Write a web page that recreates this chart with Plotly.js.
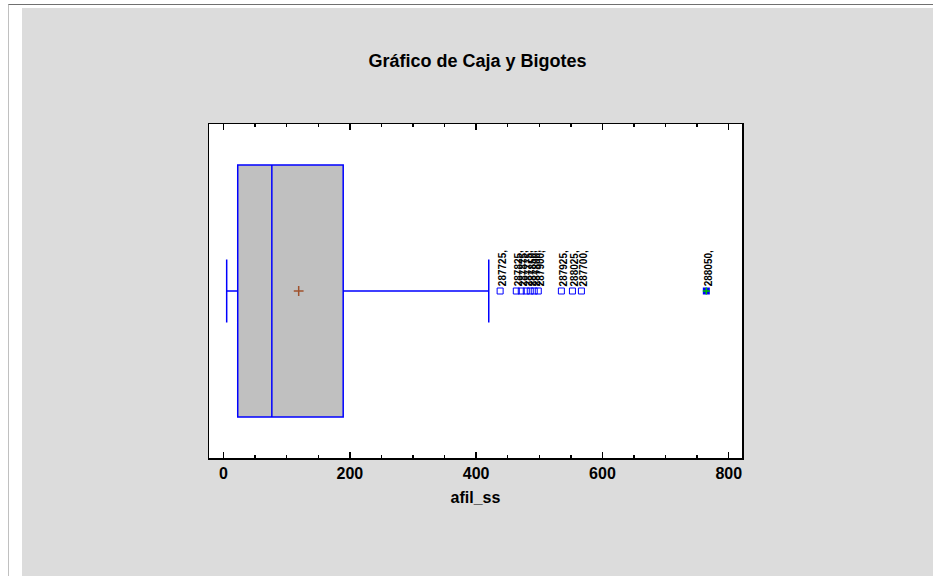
<!DOCTYPE html>
<html><head><meta charset="utf-8">
<script src="https://cdn.plot.ly/plotly-3.0.1.min.js"></script>
<style>
html,body{margin:0;padding:0;background:#fff;width:933px;height:576px;overflow:hidden;}
#frame{position:absolute;left:8px;top:4px;width:925px;height:572px;border-top:1px solid #707070;border-left:1px solid #c0c0c0;}
#chart{position:absolute;left:22px;top:8px;width:911px;height:568px;}
</style></head>
<body>
<div id="frame"></div>
<div id="chart"></div>
<script>
// Summary statistics of afil_ss
const variableName = "afil_ss";
const boxQ1 = [22.5];
const boxMedian = [76.5];
const boxQ3 = [189.5];
const boxLowerWhisker = [5];
const boxUpperWhisker = [420];
const boxMean = [119];
// Outliers (value, row label)
const outlierValues = [438, 463.6, 471.5, 479.4, 485.7, 492, 498.4, 535, 552.5, 566.7];
const outlierLabels = ["287725,", "287825,", "287875,", "287775,", "287850,", "287800,", "287900,", "287925,", "288025,", "287700,"];
const farOutlierValues = [764.5];
const farOutlierLabels = ["288050,"];
const xTickVals = [0, 200, 400, 600, 800];
const xRange = [-23, 821];

const FONT = 'Liberation Sans, Arial, sans-serif';
const traces = [
  {
    type: 'box', orientation: 'h', y: [0],
    q1: boxQ1, median: boxMedian, q3: boxQ3,
    lowerfence: boxLowerWhisker, upperfence: boxUpperWhisker,
    boxpoints: false, width: 1.509, whiskerwidth: 0.25,
    fillcolor: '#c0c0c0', line: {color: '#0000ff', width: 1.5},
    hoverinfo: 'skip', showlegend: false
  },
  {
    type: 'scatter', mode: 'markers', x: boxMean, y: [0], xaxis: 'x2',
    marker: {symbol: 'cross-thin-open', size: 7, color: '#a0522d', line: {color: '#a0522d', width: 1.5}},
    showlegend: false
  },
  {
    type: 'scatter', mode: 'markers', x: outlierValues, y: outlierValues.map(() => 0),
    marker: {symbol: 'square-open', size: 6, color: '#0000ff', line: {color: '#0000ff', width: 1}},
    showlegend: false
  },
  {
    type: 'scatter', mode: 'markers', x: farOutlierValues, y: farOutlierValues.map(() => 0),
    marker: {symbol: 'square', size: 7, color: '#0000ff', line: {width: 0}},
    showlegend: false
  },
  {
    type: 'scatter', mode: 'markers', x: farOutlierValues, y: farOutlierValues.map(() => 0),
    marker: {symbol: 'cross-thin-open', size: 5, color: '#00c000', line: {color: '#00c000', width: 1.5}},
    showlegend: false
  }
];

const allVals = outlierValues.concat(farOutlierValues);
const allLabels = outlierLabels.concat(farOutlierLabels);
const annotations = allVals.map((v, i) => ({
  x: v, y: 0, xref: 'x', yref: 'y', text: '<b>' + allLabels[i] + '</b>', showarrow: false,
  textangle: -90, xanchor: 'center', yanchor: 'bottom', yshift: 3, xshift: 2,
  font: {family: FONT, size: 10, color: '#000'}
}));

const layout = {
  width: 911, height: 568,
  paper_bgcolor: '#dcdcdc', plot_bgcolor: '#ffffff',
  margin: {l: 187, r: 191, t: 116, b: 118},
  title: {text: '<b>Gráfico de Caja y Bigotes</b>', x: 0.5, xanchor: 'center', y: 1 - 53/568, yanchor: 'middle',
          font: {family: FONT, size: 18, color: '#000'}},
  xaxis: {
    range: xRange, showgrid: false, zeroline: false,
    showline: true, linecolor: '#000', linewidth: 1.5, mirror: true,
    ticks: 'inside', ticklen: 6, tickwidth: 1.5, tickcolor: '#000',
    tickmode: 'array', tickvals: xTickVals,
    minor: {dtick: 50, ticks: 'inside', ticklen: 3, tickwidth: 1.5, tickcolor: '#000', showgrid: false},
    tickfont: {family: FONT, size: 16, color: '#000', weight: 'bold'},
    title: {text: '<b>' + variableName + '</b>', standoff: 11,
            font: {family: FONT, size: 16, color: '#000'}}
  },
  xaxis2: {
    overlaying: 'x', side: 'top', anchor: 'y', range: xRange,
    showgrid: false, zeroline: false, showticklabels: false, showline: true, linecolor: '#000', linewidth: 1.5,
    ticks: 'inside', ticklen: 6, tickwidth: 1.5, tickcolor: '#000',
    tickmode: 'array', tickvals: xTickVals,
    minor: {dtick: 50, ticks: 'inside', ticklen: 3, tickwidth: 1.5, tickcolor: '#000', showgrid: false}
  },
  yaxis: {
    range: [-1, 1], showgrid: false, zeroline: false, showticklabels: false, ticks: '',
    showline: true, linecolor: '#000', linewidth: 1.5, mirror: true
  },
  annotations: annotations,
  showlegend: false
};

Plotly.newPlot('chart', traces, layout, {displayModeBar: false, staticPlot: true});
</script>
</body></html>
